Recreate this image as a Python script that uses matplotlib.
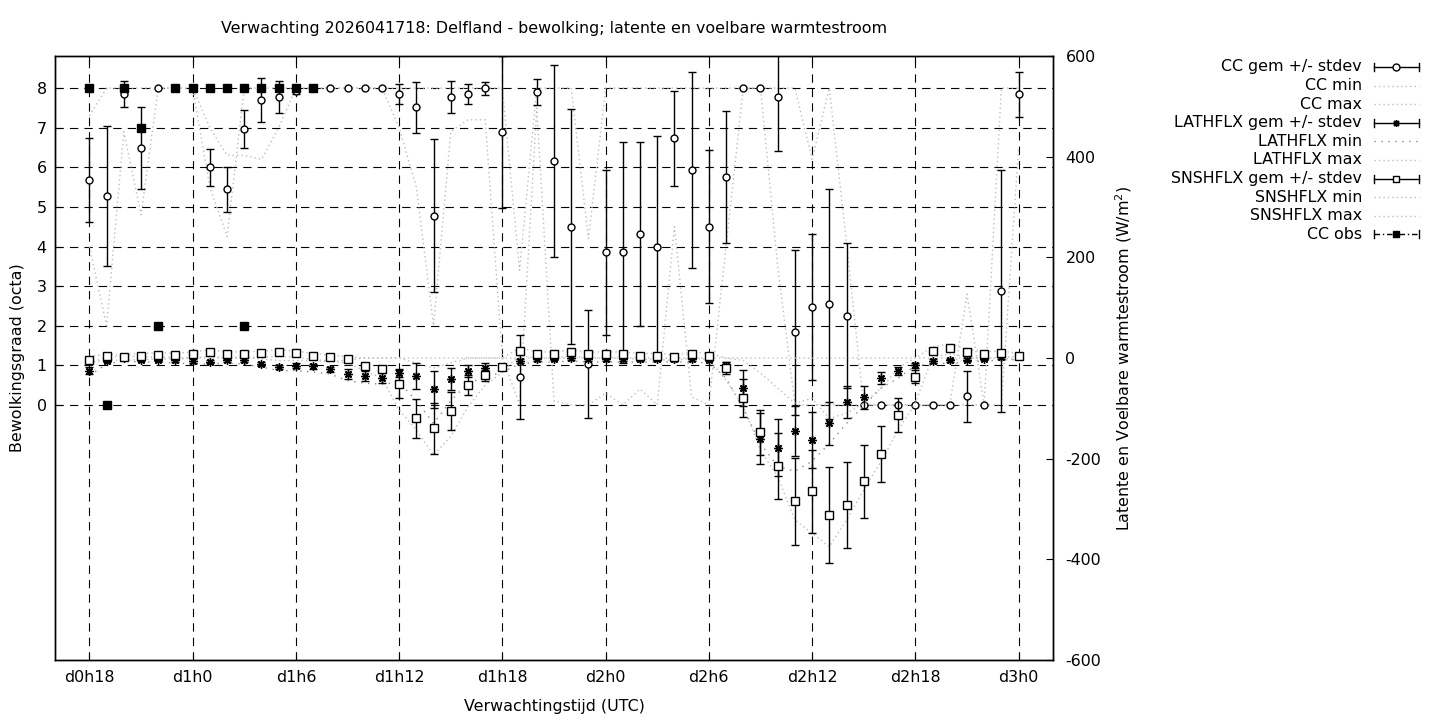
import matplotlib
matplotlib.use("Agg")
import matplotlib.pyplot as plt
from matplotlib.lines import Line2D

plt.rcParams['font.family'] = ['DejaVu Sans']
FS = 11.4

# ---------------- data ----------------
hours = [18, 19, 20, 21, 22, 23, 24, 25, 26, 27, 28, 29, 30, 31, 32, 33, 34, 35,
         36, 37, 38, 39, 40, 41, 42, 43, 44, 45, 46, 47, 48, 49, 50, 51, 52, 53,
         54, 55, 56, 57, 58, 59, 60, 61, 62, 63, 64, 65, 66, 67, 68, 69, 70, 71, 72]

tick_hours = [18, 24, 30, 36, 42, 48, 54, 60, 66, 72]
tick_labels = ["d0h18", "d1h0", "d1h6", "d1h12", "d1h18", "d2h0", "d2h6", "d2h12", "d2h18", "d3h0"]

cc_mean = [5.68, 5.27, 7.85, 6.48, 8.0, 8.0, 8.0, 6.0, 5.44, 6.97, 7.70, 7.77, 7.93, 8.0, 8.0, 8.0, 8.0, 8.0,
           7.85, 7.51, 4.78, 7.77, 7.85, 7.99, 6.88, 0.70, 7.91, 6.16, 4.50, 1.03, 3.85, 3.85, 4.31, 4.00, 6.73, 5.93,
           4.50, 5.75, 8.0, 8.0, 7.77, 1.83, 2.47, 2.54, 2.25, 0.0, 0.0, 0.0, 0.0, 0.0, 0.0, 0.22, 0.0, 2.88, 7.84]
cc_std = [1.05, 1.76, 0.32, 1.03, 0.0, 0.0, 0.0, 0.47, 0.57, 0.48, 0.55, 0.40, 0.07, 0.0, 0.0, 0.0, 0.0, 0.0,
          0.26, 0.64, 1.93, 0.40, 0.25, 0.16, 1.92, 1.06, 0.33, 2.42, 2.96, 1.37, 2.09, 2.78, 2.32, 2.80, 1.19, 2.48,
          1.93, 1.67, 0.0, 0.0, 1.36, 2.08, 1.84, 2.90, 1.83, 0.0, 0.0, 0.0, 0.0, 0.0, 0.0, 0.64, 0.0, 3.05, 0.56]
cc_min = [4.0, 2.0, 6.9, 4.8, 8.0, 8.0, 8.0, 5.5, 4.25, 8.0, 8.0, 8.0, 8.0, 8.0, 8.0, 8.0, 8.0, 8.0,
          7.0, 5.5, 2.0, 6.9, 7.2, 7.2, 1.2, 0.0, 7.5, 0.1, 0.0, 0.0, 0.3, 0.0, 0.4, 0.0, 4.5, 0.2,
          0.0, 4.0, 8.0, 8.0, 3.5, 0.0, 0.0, 0.0, 0.0, 0.0, 0.0, 0.0, 0.0, 0.0, 0.0, 0.0, 0.0, 0.0, 6.5]
cc_max = [7.3, 8.0, 8.0, 8.0, 8.0, 8.0, 8.0, 7.0, 6.3, 6.3, 6.2, 7.0, 8.0, 8.0, 8.0, 8.0, 8.0, 8.0,
          8.0, 8.0, 8.0, 8.0, 8.0, 8.0, 8.0, 3.4, 8.0, 8.0, 8.0, 4.2, 8.0, 8.0, 8.0, 8.0, 8.0, 8.0,
          8.0, 8.0, 8.0, 8.0, 8.0, 8.0, 6.2, 8.0, 4.1, 0.0, 0.0, 0.0, 0.0, 0.0, 0.0, 2.8, 0.0, 8.0, 8.0]

lat_mean = [-25, -5, 0, -3, -3, -4, -5, -7, -4, -4, -11, -17, -15, -16, -22, -32, -36, -39,
            -30, -36, -62, -42, -25, -20, -17, -5, -2, -1, 0, -2, -2, -2, -2, -2, -2, -2,
            -3, -15, -60, -160, -178, -145, -163, -130, -87, -78, -39, -26, -14, -6, -4, -3, -1, 1, 3]
lat_std = [7, 3, 2, 3, 3, 3, 4, 3, 3, 4, 4, 4, 5, 5, 5, 10, 10, 10,
           8, 26, 37, 22, 12, 10, 5, 4, 3, 3, 3, 3, 3, 3, 3, 3, 3, 3,
           3, 8, 36, 51, 56, 50, 55, 43, 32, 23, 12, 8, 5, 4, 3, 3, 3, 3, 3]
lat_min = [-35, -12, -6, -8, -8, -10, -12, -12, -10, -12, -18, -25, -25, -28, -32, -45, -50, -52,
           -48, -85, -130, -85, -50, -38, -28, -12, -8, -8, -6, -8, -8, -8, -8, -8, -8, -8,
           -10, -40, -100, -170, -215, -225, -205, -170, -130, -95, -60, -40, -15, -12, -10, -8, -6, -4, -3]
lat_max = [-10, 2, 4, 2, 2, 1, 0, 0, 1, 1, -2, -5, -5, -5, -8, -4, 0, 0,
           0, 0, 0, 0, 0, 0, 0, 0, 0, 0, 0, 0, 0, 0, 0, 0, 0, 0,
           0, 0, 0, 0, 0, 0, 0, 0, 0, 0, 0, 0, 0, 0, 0, 0, 0, 1, 3]

sns_mean = [-3, 3, 1, 4, 5, 5, 7, 11, 7, 7, 9, 11, 9, 4, 1, -1, -15, -22,
            -52, -120, -140, -105, -54, -34, -18, 14, 7, 7, 11, 7, 7, 7, 4, 4, 1, 7,
            4, -20, -80, -148, -215, -285, -265, -312, -292, -245, -191, -113, -37, 14, 19, 11, 7, 9, 4]
sns_std = [3, 3, 2, 2, 2, 2, 2, 2, 2, 2, 2, 2, 2, 2, 2, 2, 5, 6,
           28, 38, 51, 38, 20, 11, 5, 5, 3, 3, 3, 3, 3, 3, 3, 3, 3, 3,
           3, 12, 38, 45, 66, 87, 83, 95, 86, 72, 56, 34, 13, 4, 3, 3, 3, 3, 3]
sns_min = [-10, -4, -5, -3, -2, -2, 0, 3, 0, 0, 2, 3, 2, -3, -6, -10, -25, -40,
           -103, -143, -193, -156, -97, -54, -28, 5, 0, 0, 4, 0, 0, 0, -3, -3, -5, 0,
           -3, -44, -97, -183, -236, -322, -348, -375, -322, -262, -206, -143, -90, 2, 8, 2, -2, 0, -4]
sns_max = [3, 8, 6, 9, 10, 10, 12, 16, 12, 12, 14, 16, 14, 9, 6, 3, 0, 0,
           0, -10, -20, -10, 0, 0, 0, 20, 12, 12, 16, 12, 12, 12, 9, 9, 6, 12,
           9, 0, -5, -30, -60, -90, -80, -120, -110, -90, -60, -20, 0, 22, 28, 18, 12, 14, 9]

obs_hours = [18, 19, 20, 21, 22, 23, 24, 25, 26, 27, 27, 28, 29, 30, 31]
obs_cc = [8, 0, 8, 7, 2, 8, 8, 8, 8, 8, 2, 8, 8, 8, 8]

title = "Verwachting 2026041718: Delfland - bewolking; latente en voelbare warmtestroom"
labels = ["CC gem +/- stdev", "CC min", "CC max",
          "LATHFLX gem +/- stdev", "LATHFLX min", "LATHFLX max",
          "SNSHFLX gem +/- stdev", "SNSHFLX min", "SNSHFLX max", "CC obs"]

# ---------------- figure ----------------
W, H = 1440, 720
fig = plt.figure(figsize=(W / 100, H / 100), dpi=100)
L, R, T, B = 55, 1053, 56, 660
ax = fig.add_axes([L / W, 1 - B / H, (R - L) / W, (B - T) / H])
ax.set_xlim(16, 74)
ax.set_ylim(-6.44, 8.81)
ax2 = ax.twinx()
ax2.set_ylim(-600, 600)

light = '#bdbdbd'
dark = '#8a8a8a'
dot = (0, (1, 2.2))
CAP = 3

ax.set_xticks(tick_hours)
ax.set_xticklabels(tick_labels, fontsize=FS)
ax.set_yticks(list(range(0, 9)))
ax.set_yticklabels([str(i) for i in range(0, 9)], fontsize=FS)
ax.grid(True, color='black', linestyle=(0, (7.5, 5.5)), linewidth=0.8)
ax.set_axisbelow(True)
ax.tick_params(axis='both', direction='in', length=5, width=0.8, colors='black')
ax.tick_params(axis='x', top=True, pad=7)
ax.tick_params(axis='y', left=True, right=False, pad=6)
ax2.set_yticks([-600, -400, -200, 0, 200, 400, 600])
ax2.set_yticklabels([str(v) for v in [-600, -400, -200, 0, 200, 400, 600]], fontsize=FS)
ax2.tick_params(axis='y', direction='in', length=5, width=0.8, pad=9)
for a in (ax, ax2):
    for s in a.spines.values():
        s.set_linewidth(1.0)
        s.set_color('black')

# CC min / max
ax.plot(hours, cc_min, color=light, linestyle=dot, lw=1.0, zorder=1)
ax.plot(hours, cc_max, color=light, linestyle=dot, lw=1.0, zorder=1)

# CC mean +/- stdev
eb_h = [h for h, s in zip(hours, cc_std) if s > 0]
eb_m = [m for m, s in zip(cc_mean, cc_std) if s > 0]
eb_s = [s for s in cc_std if s > 0]
ax.errorbar(eb_h, eb_m, yerr=eb_s, fmt='none', ecolor='black', elinewidth=1.0,
            capsize=CAP, capthick=1.0, zorder=3)
ax.plot(hours, cc_mean, linestyle='none', marker='o', ms=5, mfc='white', mec='black',
        mew=1.0, zorder=4)

# CC obs
ax.plot(obs_hours, obs_cc, linestyle='none', marker='s', ms=5.2, mfc='black', mec='black',
        zorder=5)

# fluxes on right axis
ax2.plot(hours, lat_min, color=dark, linestyle=(0, (1, 4)), lw=1.0, zorder=1)
ax2.plot(hours, lat_max, color=light, linestyle=dot, lw=1.0, zorder=1)
ax2.plot(hours, sns_min, color=light, linestyle=dot, lw=1.0, zorder=1)
ax2.plot(hours, sns_max, color=light, linestyle=dot, lw=1.0, zorder=1)

ax2.errorbar(hours, lat_mean, yerr=lat_std, fmt='none', ecolor='black', elinewidth=1.0,
             capsize=CAP, capthick=1.0, zorder=3)
ax2.plot(hours, lat_mean, linestyle='none', marker=(8, 2, 0), ms=6, mfc='black',
         mec='black', mew=1.0, zorder=4)
ax2.errorbar(hours, sns_mean, yerr=sns_std, fmt='none', ecolor='black', elinewidth=1.0,
             capsize=CAP, capthick=1.0, zorder=3)
ax2.plot(hours, sns_mean, linestyle='none', marker='s', ms=5.5, mfc='white', mec='black',
         mew=1.0, zorder=4)

# texts
fig.text(554 / W, 1 - 29 / H, title, ha='center', va='center', fontsize=FS)
fig.text(554 / W, 1 - 706 / H, "Verwachtingstijd (UTC)", ha='center', va='center', fontsize=FS)
fig.text(18 / W, 1 - 358 / H, "Bewolkingsgraad (octa)", ha='center', va='center',
         rotation=90, fontsize=FS)
fig.text(1124 / W, 1 - 358 / H, "Latente en Voelbare warmtestroom (W/m$^2$)", ha='center',
         va='center', rotation=90, fontsize=FS)

# manual gnuplot-style legend
def fx(px):
    return px / W

def fy(py):
    return 1 - py / H

x1, x2, xm = 1374, 1419, 1396
styles = [
    ('eb', 'o', 'white'), ('dot', light, dot), ('dot', light, dot),
    ('eb', (8, 2, 0), 'black'), ('dot', dark, (0, (1, 4))), ('dot', light, dot),
    ('eb', 's', 'white'), ('dot', light, dot), ('dot', light, dot),
    ('obs', 's', 'black'),
]
for i, (lab, st) in enumerate(zip(labels, styles)):
    y = 67 + i * 18.6
    fig.text(fx(1362), fy(y), lab, ha='right', va='center', fontsize=FS)
    if st[0] == 'dot':
        fig.add_artist(Line2D([fx(x1), fx(x2)], [fy(y), fy(y)], color=st[1],
                              linestyle=st[2], lw=1.0, transform=fig.transFigure))
    else:
        ls = '-' if st[0] == 'eb' else (0, (4, 2, 1, 2))
        fig.add_artist(Line2D([fx(x1), fx(x2)], [fy(y), fy(y)], color='black',
                              linestyle=ls, lw=1.0, transform=fig.transFigure))
        for xc in (x1, x2):
            fig.add_artist(Line2D([fx(xc), fx(xc)], [fy(y - 4), fy(y + 4)], color='black',
                                  lw=1.0, transform=fig.transFigure))
        fig.add_artist(Line2D([fx(xm)], [fy(y)], marker=st[1], ms=5, mfc=st[2],
                              mec='black', mew=1.0, linestyle='none',
                              transform=fig.transFigure))

fig.savefig("out.png", dpi=100)
